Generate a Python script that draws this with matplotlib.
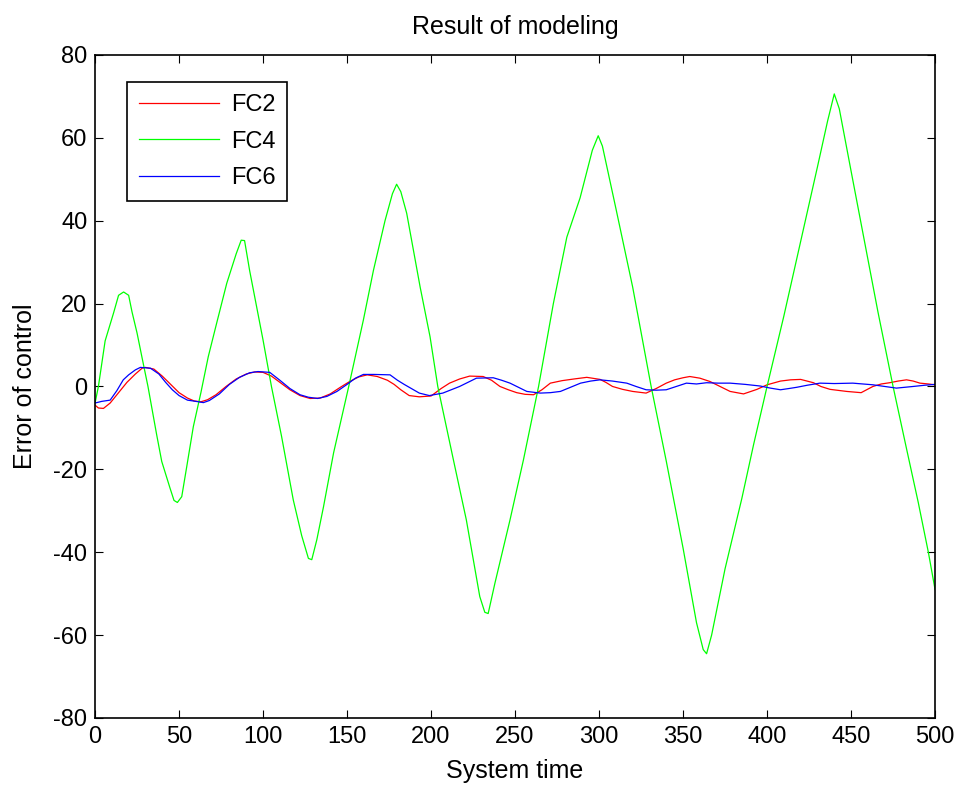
import matplotlib
matplotlib.use("Agg")
import matplotlib.pyplot as plt

plt.rcParams['font.family'] = ['Liberation Sans', 'DejaVu Sans']
plt.rcParams['axes.unicode_minus'] = False

# FC4 (green)
fc4_t = [0, 2, 6, 11, 14, 17, 20, 22, 25, 28, 31.5, 36.7, 39.7, 44.6, 47, 49, 51.6, 54.6, 58.5, 63,
         67.4, 72.4, 78.4, 84, 87, 89, 92, 100, 105, 111, 118, 123, 127, 129, 132, 136, 142, 151,
         159.7, 165.7, 172.6, 177, 179.5, 182, 185.5, 193.5, 199.4, 204, 213.3, 221, 229, 232, 234,
         238, 247, 255, 264, 272.8, 280.8, 288.7, 296, 299.5, 302, 310, 320, 331, 340, 350, 358,
         362, 364, 367, 375, 385, 392, 400, 410, 420, 430, 436, 440, 443, 450, 458, 466, 475, 483,
         490, 496, 500]
fc4_y = [-4, 0, 11, 17.7, 22, 22.8, 22, 18, 12.9, 6.9, 0, -11.7, -18.1, -24.5, -27.5, -28, -26.6,
         -19.3, -9.7, -1.5, 7.2, 15.3, 24.9, 32, 35.3, 35.2, 28, 11.2, 0, -12, -27.4, -36, -41.5,
         -41.8, -37, -29, -16, 0, 16, 28, 40, 46.5, 48.8, 47, 41.8, 24, 12, 0, -17.7, -32.2, -50.7,
         -54.5, -54.8, -47.5, -32.2, -17.7, 0, 20, 36, 45.5, 57, 60.5, 58, 43, 24, 0, -18, -39, -57,
         -63.5, -64.5, -60, -44, -27, -14, 0, 17, 35, 53, 64, 70.6, 67, 52, 35, 18, 0, -15, -28,
         -40, -49]

# FC2 (red)
fc2_t = [0, 2, 5, 9, 14, 19, 24, 28, 30, 35, 40, 45, 50, 55, 59, 63, 67, 72, 78, 84, 90, 95, 100,
         105, 110, 116, 122, 128, 134, 140, 146, 152, 157, 162, 168, 174, 178, 182, 187, 193, 200,
         206, 211, 217, 223, 231, 236, 241, 246, 251, 256, 261, 266, 271, 278, 285, 292.7, 300.6,
         304, 308, 314, 320, 328, 334, 340, 345, 350, 354, 360, 366, 372, 378, 386, 394, 400, 408,
         414, 420, 427.6, 432, 437.5, 447.4, 456, 463, 468, 473, 478, 483, 487, 491, 496, 500]
fc2_y = [-4.5, -5.2, -5.3, -4, -1.5, 1, 3, 4.4, 4.6, 4.2, 2.5, 0.5, -1.5, -2.8, -3.5, -3.7, -3.2,
         -2, 0, 1.8, 3, 3.5, 3.4, 2.5, 1, -0.8, -2.2, -2.9, -2.8, -1.8, -0.2, 1.3, 2.3, 2.8, 2.4,
         1.5, 0.5, -0.8, -2.2, -2.5, -2.3, -0.5, 0.8, 1.8, 2.5, 2.4, 1.5, 0, -0.8, -1.5, -1.9, -2,
         -0.8, 0.8, 1.4, 1.8, 2.2, 1.7, 1, 0, -0.7, -1.2, -1.6, -0.5, 0.8, 1.6, 2.1, 2.4, 2, 1.2,
         0, -1.2, -1.8, -0.7, 0.4, 1.3, 1.6, 1.7, 0.9, 0, -0.7, -1.2, -1.5, 0, 0.6, 0.9, 1.3, 1.6,
         1.3, 0.8, 0.6, 0.4]

# FC6 (blue)
fc6_t = [0, 4, 9, 13, 16.8, 20, 24, 27, 33, 38, 42, 46, 50, 55, 60, 64.5, 68, 74, 80, 86, 92, 97,
         104, 110, 116, 122, 127, 132.5, 138, 144, 150, 155, 159.7, 166, 175.6, 180, 184, 193, 199,
         207, 212, 217, 222, 227, 237, 242, 247, 252, 257, 265, 271, 277, 283, 289, 295, 300.6, 308,
         316.5, 322, 328, 334, 340, 346, 352, 358, 364, 371, 378, 387, 396, 402, 408, 413, 417.7,
         424, 431.5, 440, 451, 457, 463, 470, 477, 482, 487, 494, 500]
fc6_y = [-4, -3.6, -3.3, -1, 1.6, 2.8, 4, 4.6, 4.4, 3, 1, -0.8, -2.2, -3.3, -3.6, -3.9, -3.4, -1.8,
         0.5, 2.2, 3.3, 3.6, 3.4, 1.5, -0.5, -2, -2.6, -2.9, -2.4, -1.2, 0.5, 2, 2.9, 2.9, 2.8, 1.5,
         0.5, -1.6, -2.2, -1.6, -0.8, 0, 1, 2, 2.1, 1.5, 0.8, -0.2, -1.2, -1.6, -1.5, -1.2, -0.2,
         0.8, 1.3, 1.6, 1.3, 0.8, 0, -0.8, -0.9, -0.8, 0, 0.8, 0.6, 0.9, 0.8, 0.8, 0.5, 0.1, -0.4,
         -0.8, -0.5, -0.2, 0.3, 0.8, 0.7, 0.8, 0.6, 0.4, 0, -0.4, -0.2, 0, 0.3, 0.5]

x_ticks = [0, 50, 100, 150, 200, 250, 300, 350, 400, 450, 500]
y_ticks = [-80, -60, -40, -20, 0, 20, 40, 60, 80]


def main():
    fig = plt.figure(figsize=(9.62, 7.85), dpi=100)
    ax = fig.add_axes([0.0988, 0.0854, 0.8732, 0.8446])

    ax.plot(fc2_t, fc2_y, color=(1, 0, 0), lw=0.9, label='FC2')
    ax.plot(fc4_t, fc4_y, color=(0, 1, 0), lw=0.9, label='FC4')
    ax.plot(fc6_t, fc6_y, color=(0, 0, 1), lw=0.9, label='FC6')

    ax.set_xlim(0, 500)
    ax.set_ylim(-80, 80)
    ax.set_xticks(x_ticks)
    ax.set_yticks(y_ticks)
    ax.tick_params(direction='in', length=6, width=0.8, top=True, right=True,
                   labelsize=17, pad=5.5)
    for s in ax.spines.values():
        s.set_linewidth(1.2)

    ax.set_title('Result of modeling', fontsize=18, pad=15)
    ax.set_xlabel('System time', fontsize=18, labelpad=8)
    ax.set_ylabel('Error of control', fontsize=18, labelpad=12)

    leg = ax.legend(loc='upper left', bbox_to_anchor=(0.038, 0.959), borderaxespad=0,
                    fontsize=17, handlelength=3.4, handletextpad=0.5, labelspacing=0.62,
                    fancybox=False, edgecolor='black', framealpha=1, borderpad=0.5)
    leg.get_frame().set_linewidth(1.2)

    fig.savefig('out.png', dpi=100)
    plt.close()


if __name__ == "__main__":
    main()
